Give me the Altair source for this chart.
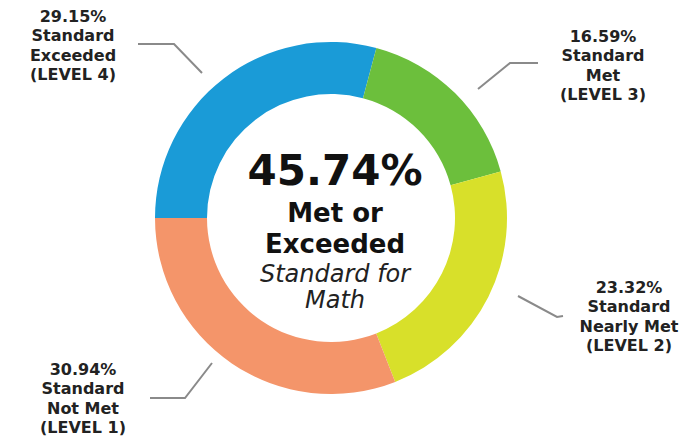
import math
import altair as alt
import pandas as pd

# ---- data ----
categories = ["Standard Exceeded (LEVEL 4)", "Standard Met (LEVEL 3)",
              "Standard Nearly Met (LEVEL 2)", "Standard Not Met (LEVEL 1)"]
percents = [29.15, 16.59, 23.32, 30.94]
label_words = [["Standard", "Exceeded", "(LEVEL 4)"],
               ["Standard", "Met", "(LEVEL 3)"],
               ["Standard", "Nearly Met", "(LEVEL 2)"],
               ["Standard", "Not Met", "(LEVEL 1)"]]
center_words = ["Met or", "Exceeded"]
center_sub = ["Standard for", "Math"]
colors = ["#1a9bd7", "#6cbf3c", "#d8e02a", "#f4956a"]

# ---- layout (plot coordinates, px) ----
W, H = 676, 430
CX, CY = 323, 210
label_pos = [(65, 14), (595, 34), (621, 285), (75, 367)]
line_h = 19.3
leader_x = [[130, 166, 194], [470, 502, 530], [510, 549, 555], [142, 177, 204]]
leader_y = [[36, 36, 65], [81, 55, 55], [288, 309, 308], [390, 390, 355]]

df = pd.DataFrame({"cat": categories, "pct": percents, "idx": range(4)})

rows = []
for i, (p, words) in enumerate(zip(percents, label_words)):
    x0, y0 = label_pos[i]
    for j, t in enumerate([f"{p:.2f}%"] + words):
        rows.append({"x": x0, "y": y0 + j * line_h, "t": t})
lab_df = pd.DataFrame(rows)

lead_rows = []
for i in range(4):
    for k in range(3):
        lead_rows.append({"g": i, "k": k, "x": leader_x[i][k], "y": leader_y[i][k]})
lead_df = pd.DataFrame(lead_rows)

total = percents[0] + percents[1]
cb_df = pd.DataFrame({"t": [f"{total:.2f}%"] + center_words,
                      "y": [177, 214, 245], "fs": [42, 26, 26], "x": [327] * 3})
ci_df = pd.DataFrame({"t": center_sub, "y": [274, 300], "fs": [24, 24], "x": [327] * 2})

xs = alt.Scale(domain=[0, W], nice=False, zero=False)
ys = alt.Scale(domain=[0, H], nice=False, zero=False, reverse=True)

donut = alt.Chart(df).mark_arc(innerRadius=124, outerRadius=176).encode(
    theta=alt.Theta("pct:Q", stack=True,
                    scale=alt.Scale(range=[-math.pi / 2, 3 * math.pi / 2])),
    color=alt.Color("cat:N", scale=alt.Scale(domain=categories, range=colors), legend=None),
    order=alt.Order("idx:Q"),
    x=alt.value(CX), y=alt.value(CY),
)

leaders = alt.Chart(lead_df).mark_line(color="#8a8a8a", strokeWidth=2).encode(
    x=alt.X("x:Q", scale=xs, axis=None),
    y=alt.Y("y:Q", scale=ys, axis=None),
    detail="g:N",
    order="k:Q",
)

labels = alt.Chart(lab_df).mark_text(
    font="DejaVu Sans", fontWeight="bold", fontSize=16, color="#222222",
    align="center", baseline="alphabetic"
).encode(
    x=alt.X("x:Q", scale=xs, axis=None),
    y=alt.Y("y:Q", scale=ys, axis=None),
    text="t:N",
)

center_bold = alt.Chart(cb_df).mark_text(
    font="DejaVu Sans", fontWeight="bold", color="#111111",
    align="center", baseline="alphabetic"
).encode(
    x=alt.X("x:Q", scale=xs, axis=None),
    y=alt.Y("y:Q", scale=ys, axis=None),
    text="t:N",
    size=alt.Size("fs:Q", scale=None),
)

center_it = alt.Chart(ci_df).mark_text(
    font="DejaVu Sans", fontStyle="italic", color="#222222",
    align="center", baseline="alphabetic"
).encode(
    x=alt.X("x:Q", scale=xs, axis=None),
    y=alt.Y("y:Q", scale=ys, axis=None),
    text="t:N",
    size=alt.Size("fs:Q", scale=None),
)

chart = alt.layer(donut, leaders, labels, center_bold, center_it).properties(
    width=W, height=H, padding=0, background="white",
    autosize=alt.AutoSizeParams(type="none"),
).configure_view(stroke=None)

chart.save("out.html", embed_options={"renderer": "svg", "actions": False})
